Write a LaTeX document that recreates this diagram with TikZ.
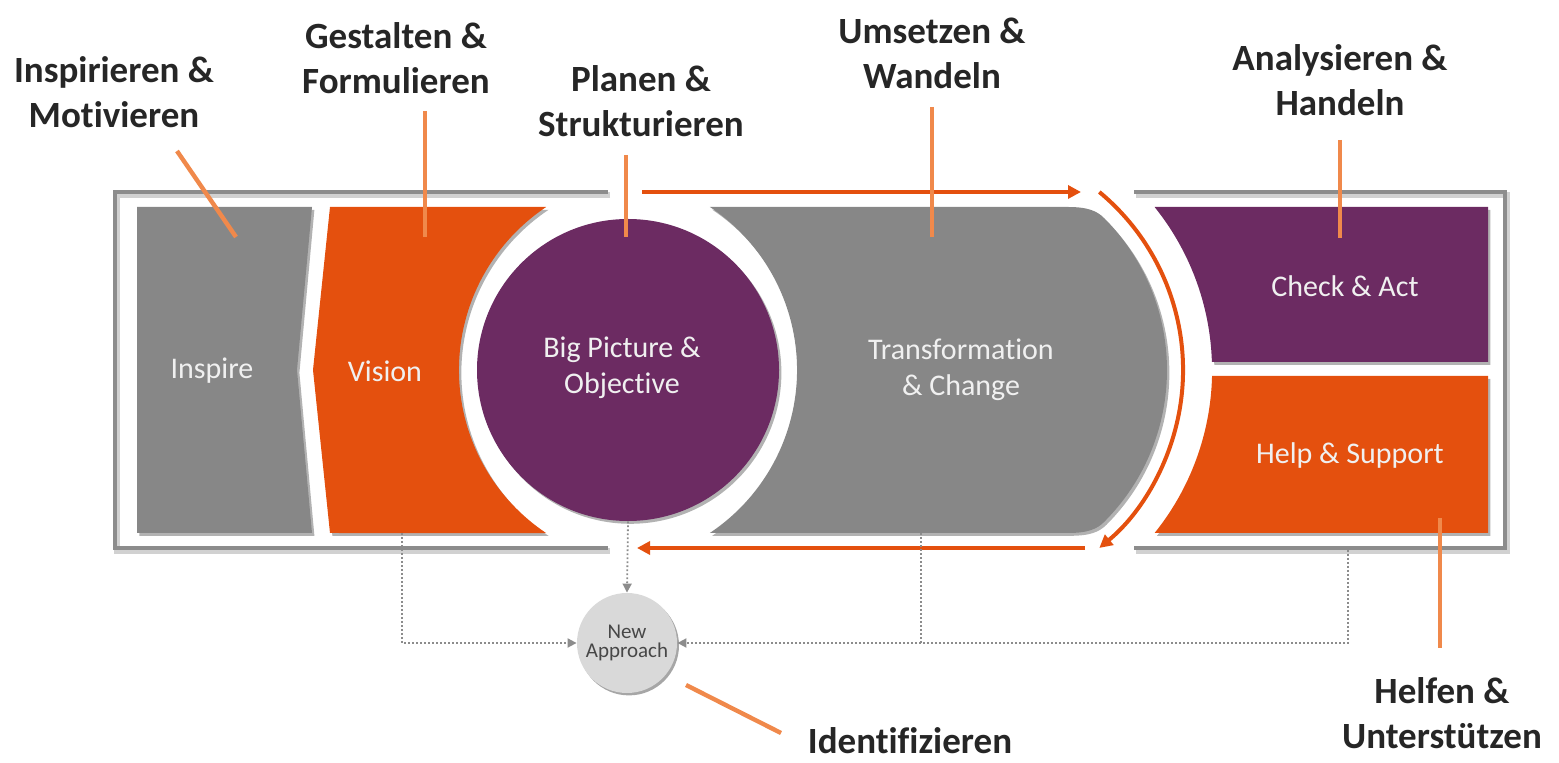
\documentclass[tikz,border=0pt]{standalone}
\usepackage{fontspec}
\setmainfont{Carlito}[Ligatures=NoCommon]
\usetikzlibrary{arrows.meta,calc,shadows}

\definecolor{blockgray}{RGB}{135,135,135}
\definecolor{blockorange}{RGB}{228,80,14}
\definecolor{blockpurple}{RGB}{108,43,98}
\definecolor{leadorange}{RGB}{240,137,75}
\definecolor{framegray}{RGB}{140,140,140}
\definecolor{labeltext}{RGB}{38,38,38}
\definecolor{bubblefill}{RGB}{217,217,217}
\definecolor{dotgray}{RGB}{140,140,140}

\begin{document}
\begin{tikzpicture}[x=0.5pt,y=-0.5pt,
  blockshadow/.style={drop shadow={shadow xshift=1.2pt,shadow yshift=-1.4pt,opacity=0.3,fill=black}},
  frameline/.style={draw=framegray,line width=2.2pt},
  frameshade/.style={draw=black!18,line width=2.6pt},
  flow/.style={draw=blockorange,line width=2pt,-{Triangle[length=6.5pt,width=6.5pt]}},
  lead/.style={draw=leadorange,line width=2.2pt},
  dotline/.style={draw=dotgray,line width=0.9pt,dash pattern=on 0.9pt off 1.1pt},
  dotarrow/.style={dotline,-{Triangle[length=4.5pt,width=4.5pt]}},
  lbl/.style={font=\bfseries\fontsize{18.5}{22.5}\selectfont,text=labeltext,align=center,inner sep=0pt},
  inner/.style={font=\fontsize{15}{18}\selectfont,text=white!94!black,align=center,inner sep=0pt}]

\useasboundingbox (0,0) rectangle (1559,763);

% ---- outer frame (two halves, open where the cycle arrows pass) ----
\begin{scope}[shift={(2,3)}]
  \draw[frameshade] (608,192) -- (115,192) -- (115,548) -- (608,548);
  \draw[frameshade] (1134,192) -- (1505,192) -- (1505,548) -- (1134,548);
\end{scope}
\draw[frameline] (608,192) -- (115,192) -- (115,548) -- (608,548);
\draw[frameline] (1134,192) -- (1505,192) -- (1505,548) -- (1134,548);

% ---- Inspire block ----
\fill[blockgray,blockshadow] (137,207) -- (312,207) -- (297,370) -- (312,533) -- (137,533) -- cycle;
\node[inner] (inspire) at (212,371) {Inspire};

% ---- Vision block ----
\fill[blockorange,blockshadow] (330,207) -- (546.2,207)
  arc[start angle=236.3,end angle=123.7,radius=196] -- (330,533) -- (313,370) -- cycle;
\node[inner] (vision) at (385,371) {Vision};

% ---- Transformation block ----
\fill[blockgray,blockshadow] (709.8,207) -- (1068,207)
  .. controls (1088,207) and (1097,211) .. (1104,218)
  arc[start angle=-45,end angle=45,radius=215]
  .. controls (1097,529) and (1088,533) .. (1068,533)
  -- (709.8,533) arc[start angle=56.3,end angle=-56.3,radius=196] -- cycle;
\node[inner] (transf) at (961,370) {Transformation\\\& Change};

% ---- Big Picture circle ----
\node[circle,fill=blockpurple,minimum size=151pt,inner sep=0pt,blockshadow] (bigpic) at (628,370) {};
\node[inner] (bigpictext) at (622,368) {Big Picture \&\\Objective};

% ---- Check & Act / Help & Support ----
\fill[blockpurple,blockshadow] (1154.6,207) -- (1488,207) -- (1488,362) -- (1211.9,362)
  arc[start angle=-1.76,end angle=-38.85,radius=260] -- cycle;
\node[inner] (check) at (1345,286) {Check \& Act};
\fill[blockorange,blockshadow] (1211.9,376) -- (1488,376) -- (1488,533) -- (1154.6,533)
  arc[start angle=38.85,end angle=1.32,radius=260] -- cycle;
\node[inner] (help) at (1350,456) {Help \& Support};

% ---- cycle arrows ----
\coordinate (topA) at (642,192);
\coordinate (topB) at (1081,192);
\coordinate (arcA) at (1099.3,192);
\coordinate (botA) at (1085,548);
\coordinate (botB) at (637,548);
\draw[flow] (topA) -- (topB);
\draw[flow] (arcA) arc[start angle=-50.4,end angle=50.4,radius=231];
\draw[flow] (botA) -- (botB);

% ---- New Approach bubble and dotted feeds ----
\node[circle,fill=bubblefill,minimum size=50pt,inner sep=0pt,
      drop shadow={shadow xshift=1pt,shadow yshift=-1.2pt,opacity=0.35,fill=black},
      font=\fontsize{10.5}{9.5}\selectfont,text=black!72,align=center] (na) at (627,643) {New\\Approach};
\coordinate (visfoot) at (402,533);
\coordinate (trfoot) at (921,533);
\coordinate (rightfoot) at (1348,550);
\coordinate (trjoin) at (921,643);
\draw[dotarrow] (visfoot) |- (na.west);
\draw[dotarrow] (bigpic.south) -- (na.north);
\draw[dotarrow] (rightfoot) |- (na.east);
\draw[dotline] (trfoot) -- (trjoin);

% ---- labels and leader lines ----
\node[lbl] (l1) at (114,92) {Inspirieren \&\\Motivieren};
\node[lbl] (l2) at (396,58) {Gestalten \&\\Formulieren};
\node[lbl] (l3) at (641,101) {Planen \&\\Strukturieren};
\node[lbl] (l4) at (932,53) {Umsetzen \&\\Wandeln};
\node[lbl] (l5) at (1340,80) {Analysieren \&\\Handeln};
\node[lbl] (l6) at (1442,713) {Helfen \&\\Unterstützen};
\node[lbl] (l7) at (910,741) {Identifizieren};

\coordinate (p1a) at (177,151); \coordinate (p1b) at (236,237);
\coordinate (p2a) at (425,111); \coordinate (p2b) at (425,237);
\coordinate (p3a) at (626,155); \coordinate (p3b) at (626,237);
\coordinate (p4a) at (932,107); \coordinate (p4b) at (932,237);
\coordinate (p5a) at (1340,140); \coordinate (p5b) at (1340,238);
\coordinate (p6a) at (1440,518); \coordinate (p6b) at (1440,648);
\coordinate (p7a) at (686,685); \coordinate (p7b) at (781,733);
\draw[lead] (p1a) -- (p1b);
\draw[lead] (p2a) -- (p2b);
\draw[lead] (p3a) -- (p3b);
\draw[lead] (p4a) -- (p4b);
\draw[lead] (p5a) -- (p5b);
\draw[lead] (p6a) -- (p6b);
\draw[lead] (p7a) -- (p7b);
\end{tikzpicture}
\end{document}
